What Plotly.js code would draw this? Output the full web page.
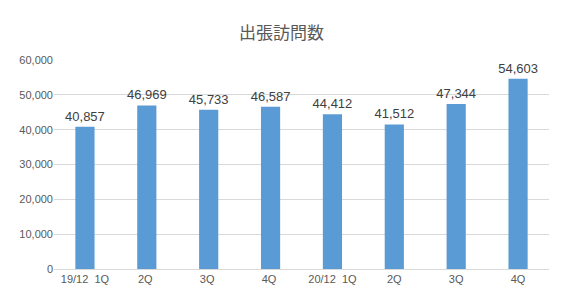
<!DOCTYPE html>
<html><head><meta charset="utf-8">
<script src="https://cdn.plot.ly/plotly-3.0.1.min.js"></script>
<style>html,body{margin:0;padding:0;background:#fff}#chart{width:563px;height:300px}</style>
</head><body><div id="chart"></div>
<script>
const categories = ["19/12  1Q", "2Q ", "3Q ", "4Q ", "20/12  1Q", "2Q", "3Q", "4Q"];
const visits = [40857, 46969, 45733, 46587, 44412, 41512, 47344, 54603];
const tickVals = [0, 10000, 20000, 30000, 40000, 50000, 60000];
const tickText = ["0", "10,000", "20,000", "30,000", "40,000", "50,000", "60,000"];

const trace = {
  type: "bar",
  x: categories,
  y: visits,
  marker: {color: "#5b9bd5"},
  text: visits.map(v => v.toLocaleString("en-US")),
  textposition: "outside",
  constraintext: "none",
  cliponaxis: false,
  textfont: {family: "Liberation Sans Narrow, Liberation Sans, sans-serif", size: 13, color: "#404040"},
  hoverinfo: "none"
};
const layout = {
  width: 563, height: 300,
  margin: {l: 54, r: 14, t: 60, b: 31},
  paper_bgcolor: "#fff", plot_bgcolor: "#fff",
  title: {text: "出張訪問数", x: 0.5, xanchor: "center", y: 0.89, yanchor: "middle",
          font: {family: "Noto Sans CJK JP", size: 17, color: "#595959"}},
  bargap: 0.69,
  showlegend: false,
  xaxis: {type: "category", showline: true, linecolor: "#d9d9d9", linewidth: 1,
          tickfont: {family: "Liberation Sans Narrow, Liberation Sans, sans-serif", size: 11, color: "#595959"},
          ticks: "", fixedrange: true},
  yaxis: {range: [0, 60000], tickvals: tickVals, ticktext: tickText, showgrid: true,
          gridcolor: "#d9d9d9", gridwidth: 1, zeroline: false, showline: false,
          tickfont: {family: "Liberation Sans Narrow, Liberation Sans, sans-serif", size: 11, color: "#595959"},
          ticks: "", ticklen: 0, fixedrange: true}
};
Plotly.newPlot("chart", [trace], layout, {staticPlot: true, displayModeBar: false});
</script></body></html>
